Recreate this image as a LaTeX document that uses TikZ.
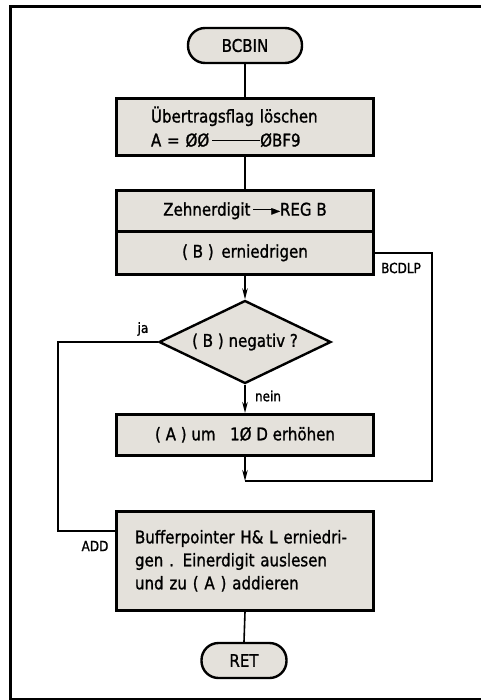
\documentclass[tikz,border=0pt]{standalone}
\usepackage{fontspec}
\setmainfont[FakeStretch=0.86,FakeBold=1.2]{DejaVu Sans}
\usetikzlibrary{shapes.geometric,arrows.meta,calc}
\definecolor{boxfill}{HTML}{E4E1DB}
\begin{document}
\begin{tikzpicture}[x=1pt,y=-1pt,
  every node/.style={font=\fontsize{17.5}{23}\selectfont},
  proc/.style={draw=black,line width=2.6pt,fill=boxfill,minimum width=257pt,inner sep=0pt,anchor=north},
  term/.style={draw=black,line width=2.4pt,fill=boxfill,rounded corners=17pt,minimum height=35pt,inner sep=0pt},
  dec/.style={draw=black,line width=2.4pt,fill=boxfill,diamond,aspect=2.1,minimum width=172pt,minimum height=83pt,inner sep=0pt},
  conn/.style={line width=1.6pt},
  arr/.style={line width=1.6pt,-{Stealth[length=11pt,width=5.5pt]}},
  lbl/.style={font=\fontsize{14}{14}\selectfont,inner sep=0pt}]
\useasboundingbox (0,0) rectangle (480,700);
% frame
\draw[line width=3pt] (490,7) -- (10,7) -- (10,699) -- (490,699);
% nodes
\node[term,minimum width=114pt] (start) at (245,45.5) {BCBIN};
\node[proc,minimum height=57pt,align=left,text width=188pt] (init) at (245,97)
  {Übertragsflag löschen\\[1pt]A = ØØ\,\raisebox{0.32em}{\rule{48pt}{0.9pt}}ØBF9};
\node[proc,minimum height=41pt] (zehner) at (245,189)
  {Zehnerdigit\,\raisebox{0.32em}{\rule{22pt}{0.9pt}}\kern-4pt\raisebox{0.05em}{\fontsize{13}{13}\selectfont ►}REG B};
\node[proc,minimum height=43pt] (bcdlp) at (245,230) {( B )\, erniedrigen};
\node[dec] (neg) at (245,342) {( B ) negativ ?};
\node[proc,minimum height=41pt] (incr) at (245,413) {( A ) um\;\; 1Ø D erhöhen};
\node[proc,minimum height=99pt,align=left,text width=220pt] (add) at (245,510)
  {Bufferpointer H\& L erniedri-\\gen . Einerdigit auslesen\\und zu ( A ) addieren};
\node[term,minimum width=85pt] (ret) at (244,660.5) {RET};
% labels
\node[lbl] (ja) at (143,329) {ja};
\node[lbl] (nein) at (268,396) {nein};
\node[lbl] (lbcdlp) at (401,268) {BCDLP};
\node[lbl] (ladd) at (95,546) {ADD};
% connectors
\coordinate (merge) at (245,481);
\coordinate (addin) at ([yshift=-21pt]add.north west);
\draw[conn] (start) -- (init);
\draw[conn] (init) -- (zehner);
\draw[arr] (bcdlp.south) -- (neg.north);
\draw[arr] (neg.south) -- (incr.north);
\draw[arr] (incr.south) -- (merge);
\draw[conn] (merge) -| ($(bcdlp.east)+(57,0)$) -- (bcdlp.east);
\draw[conn] (neg.west) -- ++(-100,0) |- (addin);
\draw[conn] (add.south) -- (ret.north);
\end{tikzpicture}
\end{document}
